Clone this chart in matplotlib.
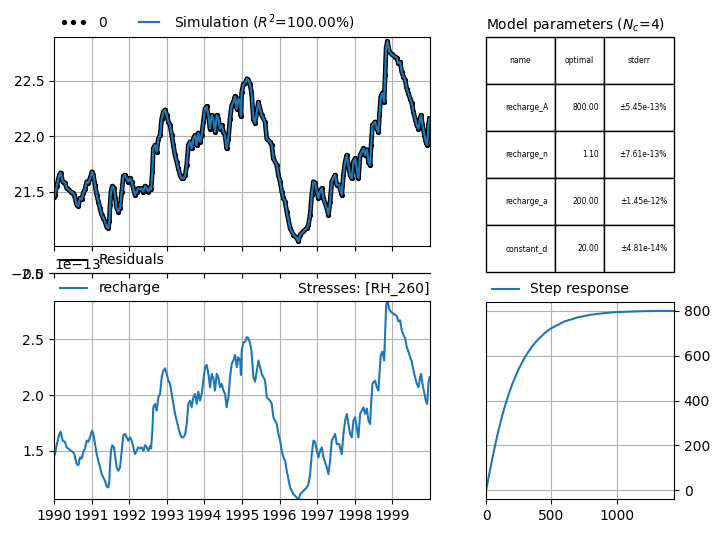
import matplotlib
matplotlib.use("Agg")
import matplotlib.pyplot as plt
import matplotlib.dates as mdates
from matplotlib.lines import Line2D
import numpy as np
import pandas as pd

t_years = [
    0.000, 0.027, 0.071, 0.142, 0.177, 0.230, 0.290, 0.337, 0.380, 0.443, 0.496, 0.540,
    0.603, 0.647, 0.690, 0.736, 0.780, 0.824, 0.869, 0.913, 0.957, 1.010, 1.046, 1.090,
    1.135, 1.180, 1.223, 1.268, 1.312, 1.356, 1.400, 1.445, 1.470, 1.490, 1.516, 1.550,
    1.596, 1.630, 1.667, 1.710, 1.755, 1.800, 1.844, 1.890, 1.930, 1.977, 2.020, 2.066,
    2.110, 2.154, 2.200, 2.240, 2.287, 2.330, 2.376, 2.420, 2.465, 2.510, 2.553, 2.580,
    2.615, 2.640, 2.686, 2.730, 2.775, 2.820, 2.864, 2.908, 2.953, 2.997, 3.040, 3.085,
    3.130, 3.174, 3.218, 3.262, 3.307, 3.350, 3.395, 3.440, 3.490, 3.528, 3.573, 3.617,
    3.660, 3.706, 3.750, 3.794, 3.838, 3.883, 3.927, 3.970, 4.016, 4.060, 4.104, 4.149,
    4.193, 4.238, 4.280, 4.326, 4.370, 4.415, 4.460, 4.503, 4.548, 4.590, 4.637, 4.680,
    4.725, 4.770, 4.814, 4.860, 4.900, 4.947, 4.970, 4.990, 5.035, 5.083, 5.130, 5.167,
    5.210, 5.250, 5.301, 5.346, 5.434, 5.523, 5.612, 5.656, 5.745, 5.789, 5.833, 5.922,
    5.966, 6.011, 6.055, 6.099, 6.144, 6.188, 6.277, 6.365, 6.454, 6.499, 6.543, 6.631,
    6.720, 6.765, 6.809, 6.853, 6.897, 6.942, 6.986, 7.030, 7.074, 7.120, 7.163, 7.252,
    7.296, 7.340, 7.385, 7.473, 7.518, 7.580, 7.650, 7.695, 7.740, 7.784, 7.828, 7.872,
    7.917, 7.961, 8.005, 8.050, 8.094, 8.138, 8.183, 8.227, 8.271, 8.316, 8.360, 8.404,
    8.431, 8.466, 8.537, 8.580, 8.626, 8.652, 8.688, 8.732, 8.777, 8.803, 8.830, 8.865,
    8.910, 8.980, 9.069, 9.113, 9.157, 9.202, 9.246, 9.290, 9.335, 9.379, 9.423, 9.468,
    9.512, 9.556, 9.600, 9.645, 9.690, 9.734, 9.760, 9.796, 9.850, 9.885, 9.920, 9.955,
    9.983,
]
head = [
    21.45, 21.47, 21.55, 21.65, 21.67, 21.59, 21.58, 21.53, 21.52, 21.50, 21.49, 21.47,
    21.38, 21.37, 21.44, 21.43, 21.49, 21.52, 21.59, 21.58, 21.62, 21.68, 21.65, 21.56,
    21.47, 21.41, 21.35, 21.29, 21.26, 21.23, 21.18, 21.17, 21.23, 21.38, 21.50, 21.55,
    21.53, 21.44, 21.35, 21.32, 21.35, 21.50, 21.64, 21.65, 21.62, 21.59, 21.62, 21.59,
    21.53, 21.47, 21.50, 21.53, 21.52, 21.53, 21.50, 21.55, 21.53, 21.50, 21.54, 21.52,
    21.68, 21.89, 21.92, 21.86, 21.98, 22.01, 22.16, 22.22, 22.24, 22.19, 22.13, 22.10,
    22.01, 21.92, 21.83, 21.77, 21.71, 21.65, 21.62, 21.62, 21.65, 21.74, 21.92, 21.95,
    21.89, 21.98, 22.01, 21.92, 22.03, 21.95, 22.01, 22.13, 22.25, 22.27, 22.19, 22.07,
    22.19, 22.15, 22.04, 22.19, 22.16, 22.07, 22.10, 22.04, 22.01, 21.89, 21.98, 22.16,
    22.28, 22.31, 22.36, 22.25, 22.34, 22.31, 22.18, 22.40, 22.47, 22.48, 22.52, 22.51,
    22.47, 22.40, 22.16, 22.12, 22.31, 22.19, 22.13, 21.98, 21.95, 21.92, 21.80, 21.74,
    21.65, 21.59, 21.50, 21.44, 21.41, 21.32, 21.17, 21.11, 21.08, 21.05, 21.11, 21.14,
    21.17, 21.20, 21.29, 21.47, 21.59, 21.58, 21.50, 21.44, 21.50, 21.53, 21.44, 21.35,
    21.29, 21.41, 21.59, 21.65, 21.56, 21.56, 21.47, 21.65, 21.77, 21.83, 21.74, 21.65,
    21.62, 21.77, 21.80, 21.71, 21.62, 21.83, 21.86, 21.89, 21.83, 21.88, 21.77, 21.74,
    21.92, 22.10, 22.13, 22.07, 22.04, 22.19, 22.36, 22.39, 22.31, 22.55, 22.80, 22.86,
    22.77, 22.74, 22.72, 22.71, 22.66, 22.67, 22.58, 22.54, 22.51, 22.43, 22.39, 22.34,
    22.30, 22.22, 22.16, 22.10, 22.07, 22.16, 22.19, 22.10, 22.01, 21.95, 21.92, 22.10,
    22.16,
]
dates = pd.Timestamp("1990-01-01") + pd.to_timedelta(np.array(t_years) * 365.25, unit="D")

par_names = ["recharge_A", "recharge_n", "recharge_a", "constant_d"]
par_optimal = [800.00, 1.10, 200.00, 20.00]
par_stderr = ["\u00b15.45e-13%", "\u00b17.61e-13%", "\u00b11.45e-12%", "\u00b14.81e-14%"]

# step response
step_t = [0, 10, 25, 50, 75, 100, 125, 150, 175, 200, 250, 300, 350, 400, 450, 500,
          600, 700, 800, 900, 1000, 1100, 1200, 1300, 1440]
step_v = [0, 28, 73, 146, 215, 277, 334, 385, 430, 471, 540, 595, 639, 673, 701, 722,
          752, 770, 782, 789, 794, 796, 798, 799, 799]

obs = np.array(head)
sim = obs.copy()
res = obs - sim
contrib = sim - par_optimal[3]

fig = plt.figure(figsize=(7.2, 5.33), dpi=100)
W, H = 720, 533


def box(x0, y0, x1, y1):
    return [x0 / W, 1 - y1 / H, (x1 - x0) / W, (y1 - y0) / H]


ax1 = fig.add_axes(box(54, 37.3, 429.5, 245.5))
ax1.plot(dates, obs, color="k", lw=3.4, solid_joinstyle="round", label="_nolegend_")
ax1.plot(dates, obs, color="k", marker=".", ls="none", ms=5.5, label="0")
ax1.plot(dates, sim, color="C0", lw=1.6, label=r"Simulation ($R^2$=100.00%)")
ax1.set_ylim(21.013, 22.895)
ax1.set_yticks([21.5, 22.0, 22.5])
ax1.grid(True)
ax1.legend(loc=(0, 1), ncol=3, frameon=False, numpoints=3)
ax1.tick_params(labelbottom=False)

ax2 = fig.add_axes(box(54, 273.0, 429.5, 273.3), sharex=ax1)
ax2.plot(dates, res, color="k")
ax2.set_ylim(-3e-13, 1e-13)
ax2.set_yticks([-2.5e-13, 0.0])
ax2.legend(handles=[Line2D([], [], color="k", lw=1.5, label="Residuals")],
           loc=(0, 1), frameon=False)
ax2.tick_params(labelbottom=False)

ax3 = fig.add_axes(box(54, 301, 429.5, 499.3), sharex=ax1)
ax3.plot(dates, contrib, color="C0", label="recharge")
ax3.set_ylim(1.064, 2.844)
ax3.set_yticks([1.5, 2.0, 2.5])
ax3.grid(True)
ax3.legend(loc=(0, 1), frameon=False)
ax3.set_title("Stresses: [RH_260]", loc="right", fontsize=10)
ax3.xaxis.set_major_locator(mdates.YearLocator())
ax3.xaxis.set_major_formatter(mdates.DateFormatter("%Y"))
ax3.set_xlim(dates[0], dates[-1])

ax4 = fig.add_axes(box(486, 37.3, 674, 272))
ax4.axis("off")
cells = [[n, f"{v:.2f}", s] for n, v, s in zip(par_names, par_optimal, par_stderr)]
tab = ax4.table(cellText=cells, colLabels=["name", "optimal", "stderr"],
                bbox=[0, 0, 1, 1], colWidths=[0.367, 0.26, 0.373])
tab.auto_set_font_size(False)
tab.set_fontsize(5.5)
ax4.set_title(r"Model parameters ($N_c$=4)", loc="left", fontsize=10)

ax5 = fig.add_axes(box(486, 302, 674, 499.3))
ax5.plot(step_t, step_v, color="C0", label="Step response")
ax5.set_xlim(0, 1440)
ax5.yaxis.tick_right()
ax5.grid(True)
ax5.legend(loc=(0, 1), frameon=False)

fig.savefig("out.png", dpi=100)
